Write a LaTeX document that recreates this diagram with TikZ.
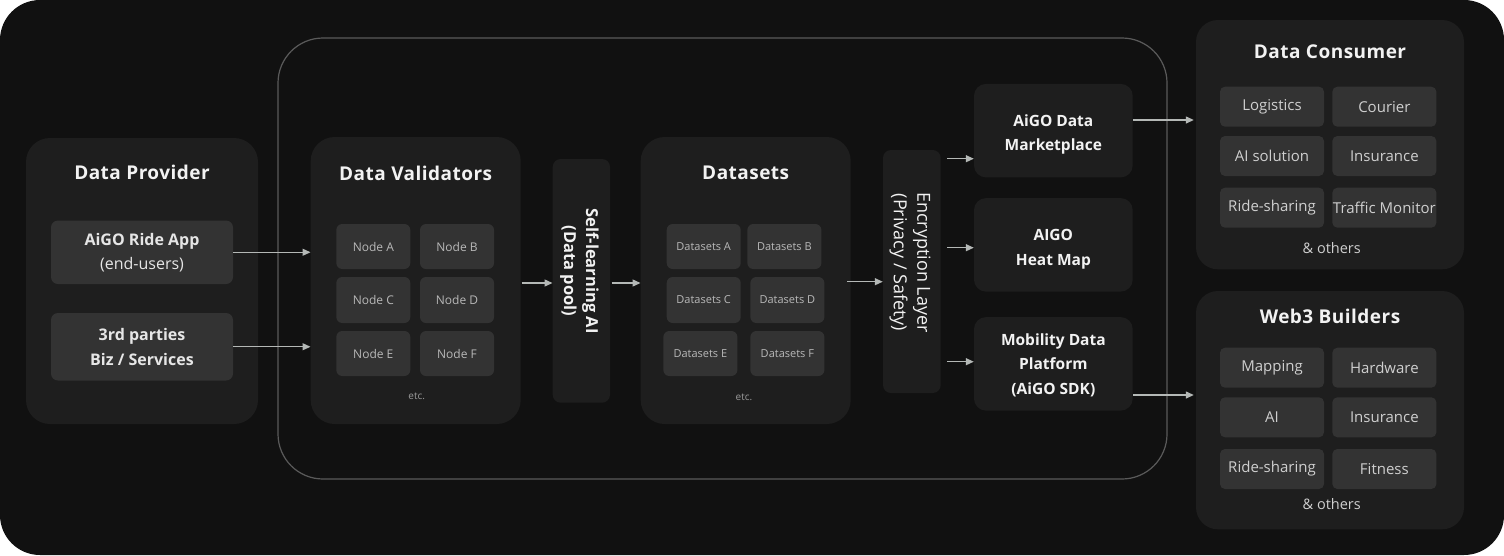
\documentclass[tikz,border=0pt]{standalone}
\usepackage{fontspec}
\setmainfont{Open Sans}
\newfontfamily\ttlfont{Open Sans}[LetterSpace=2.5]
\usetikzlibrary{arrows.meta}
\definecolor{bgc}{HTML}{111111}
\definecolor{panelc}{HTML}{1E1E1E}
\definecolor{cellc}{HTML}{333333}
\definecolor{framec}{HTML}{5A5A5A}
\definecolor{arrc}{HTML}{B4B8B6}
\definecolor{titlec}{HTML}{F2F2F2}
\definecolor{boxtc}{HTML}{E6E6E6}
\definecolor{celltc}{HTML}{CFCFCF}
\definecolor{nodetc}{HTML}{B8B8B8}
\definecolor{etcc}{HTML}{9A9A9A}
\tikzset{
  panel/.style={fill=panelc, rounded corners=24, inner sep=0, draw=none},
  smallpanel/.style={fill=panelc, rounded corners=10, inner sep=0, draw=none},
  srcbox/.style={fill=cellc, rounded corners=7, inner sep=0, minimum width=182, text=boxtc, align=center},
  vcell/.style={fill=cellc, rounded corners=6, inner sep=0, minimum width=74, minimum height=45, text=nodetc, font=\fontsize{12}{14}\selectfont},
  dcell/.style={vcell, font=\fontsize{11}{13}\selectfont},
  ccell/.style={fill=cellc, rounded corners=5, inner sep=0, minimum width=104, minimum height=40, text=celltc, font=\fontsize{15}{18}\selectfont},
  ttl/.style={text=titlec, font=\ttlfont\fontsize{19}{23}\selectfont\bfseries, inner sep=0},
  etcl/.style={text=etcc, font=\fontsize{10}{12}\selectfont, inner sep=0},
  oth/.style={text=celltc, font=\fontsize{14.5}{17}\selectfont, inner sep=0},
  outbox/.style={fill=panelc, rounded corners=12, inner sep=0, minimum width=158.7, minimum height=93.5},
  outtxt/.style={text=titlec, align=center, inner sep=0, font=\fontsize{15.5}{24.5}\selectfont\bfseries},
  vtxt/.style={text=titlec, rotate=-90, align=center, inner sep=0},
  arr/.style={draw=arrc, line width=1.3, -{Triangle[length=8,width=7]}}
}
\begin{document}
\begin{tikzpicture}[x=1pt,y=-1pt]
\useasboundingbox (0,0) rectangle (1504,555);
\fill[white] (0,0) rectangle (1504,555);
\fill[bgc, rounded corners=40] (0,0) rectangle (1504,555);

% outer frame
\node[draw=framec, line width=1.2, rounded corners=45, minimum width=889, minimum height=441, inner sep=0] (frame) at (722.5,258.5) {};

% Data provider
\node[panel, minimum width=232, minimum height=286] (dp) at (142,281) {};
\node[ttl] (dpt) at (142,172) {Data Provider};
\node[srcbox, minimum height=63.5, font=\fontsize{16}{24}\selectfont] (app) at (142,252.25) {\textbf{AiGO Ride App}\\(end-users)};
\node[srcbox, minimum height=67.5, font=\fontsize{16}{24.5}\selectfont\bfseries] (biz) at (142,346.75) {3rd parties\\Biz / Services};

% Data validators
\node[panel, minimum width=210, minimum height=287] (dv) at (415.7,280.5) {};
\node[ttl] (dvt) at (415.7,173) {Data Validators};
\node[vcell] (na) at (373.3,246.5) {Node A};
\node[vcell] (nb) at (457,246.5) {Node B};
\node[vcell, minimum height=46] (nc) at (373.3,300) {Node C};
\node[vcell, minimum height=46] (nd) at (457,300) {Node D};
\node[vcell] (ne) at (373.3,353.5) {Node E};
\node[vcell] (nf) at (457,353.5) {Node F};
\node[etcl] (dve) at (416.7,396.7) {etc.};

% Self-learning AI
\node[smallpanel, rounded corners=8, minimum width=57.3, minimum height=243.7] (sl) at (581.35,280.85) {};
\node[vtxt, font=\fontsize{16.5}{22}\selectfont\bfseries] (slt) at (579.5,271) {Self-learning AI\\(Data pool)};

% Datasets
\node[panel, minimum width=210, minimum height=287] (ds) at (745.7,280.5) {};
\node[ttl] (dst) at (745.7,173) {Datasets};
\node[dcell] (da) at (703.7,246.5) {Datasets A};
\node[dcell] (db) at (784.35,246.5) {Datasets B};
\node[dcell, minimum height=46] (dc1) at (703.7,300) {Datasets C};
\node[dcell, minimum height=46] (dd) at (787.35,300) {Datasets D};
\node[dcell] (de) at (700.35,353.5) {Datasets E};
\node[dcell] (df) at (787.35,353.5) {Datasets F};
\node[etcl] (dse) at (744,397) {etc.};

% Encryption
\node[smallpanel, rounded corners=8, minimum width=57.7, minimum height=243] (enc) at (911.85,271.5) {};
\node[vtxt, font=\fontsize{18}{23.5}\selectfont] (enct) at (910,262.5) {Encryption Layer\\(Privacy / Safety)};

% Output boxes
\node[outbox] (mk) at (1053.35,130.65) {};
\node[outtxt] (mkt) at (1053.35,134.5) {AiGO Data\\Marketplace};
\node[outbox] (hm) at (1053.35,244.85) {};
\node[outtxt] (hmt) at (1053.35,249.2) {AIGO\\Heat Map};
\node[outbox] (sdk) at (1053.35,363.85) {};
\node[outtxt] (sdkt) at (1053.35,365) {Mobility Data\\Platform\\(AiGO SDK)};

% Data consumer
\node[panel, rounded corners=22, minimum width=268, minimum height=249.3] (dcon) at (1330,144.65) {};
\node[ttl] (dcont) at (1330,51.7) {Data Consumer};
\node[ccell] (c1) at (1272,106.7) {Logistics};
\node[ccell] (c2) at (1384.35,106.7) {Courier};
\node[ccell] (c3) at (1272,156) {AI solution};
\node[ccell] (c4) at (1384.35,156) {Insurance};
\node[ccell] (c5) at (1272,207.7) {Ride-sharing};
\node[ccell] (c6) at (1384.35,207.7) {Traffic Monitor};
\node[oth] (co) at (1331.7,248.3) {\& others};

% Web3 builders
\node[panel, rounded corners=22, minimum width=268, minimum height=238.3] (wb) at (1330,410.15) {};
\node[ttl] (wbt) at (1330,316.7) {Web3 Builders};
\node[ccell] (w1) at (1272,367.7) {Mapping};
\node[ccell] (w2) at (1384.35,367.7) {Hardware};
\node[ccell] (w3) at (1272,417.3) {AI};
\node[ccell] (w4) at (1384.35,417.3) {Insurance};
\node[ccell] (w5) at (1272,469) {Ride-sharing};
\node[ccell] (w6) at (1384.35,469) {Fitness};
\node[oth] (wo) at (1331.7,504.3) {\& others};

% connectors
\draw[arr] (app.east) -- (app.east -| dv.west);
\draw[arr] (biz.east) -- (biz.east -| dv.west);
\coordinate (s1) at (521.7,283);
\draw[arr] (s1) -- (s1 -| sl.west);
\coordinate (s2) at (611.7,283);
\draw[arr] (s2) -- (s2 -| ds.west);
\coordinate (s3) at (847,281.7);
\draw[arr] (s3) -- (s3 -| enc.west);
\coordinate (e1) at (947,158.7);
\coordinate (e2) at (947,247.7);
\coordinate (e3) at (947,361.7);
\draw[arr] (e1) -- (e1 -| mk.west);
\draw[arr] (e2) -- (e2 -| hm.west);
\draw[arr] (e3) -- (e3 -| sdk.west);
\coordinate (o1) at (1133,120);
\coordinate (o2) at (1133,395);
\draw[arr, shorten >=2] (o1) -- (o1 -| dcon.west);
\draw[arr, shorten >=2] (o2) -- (o2 -| wb.west);
\end{tikzpicture}
\end{document}
